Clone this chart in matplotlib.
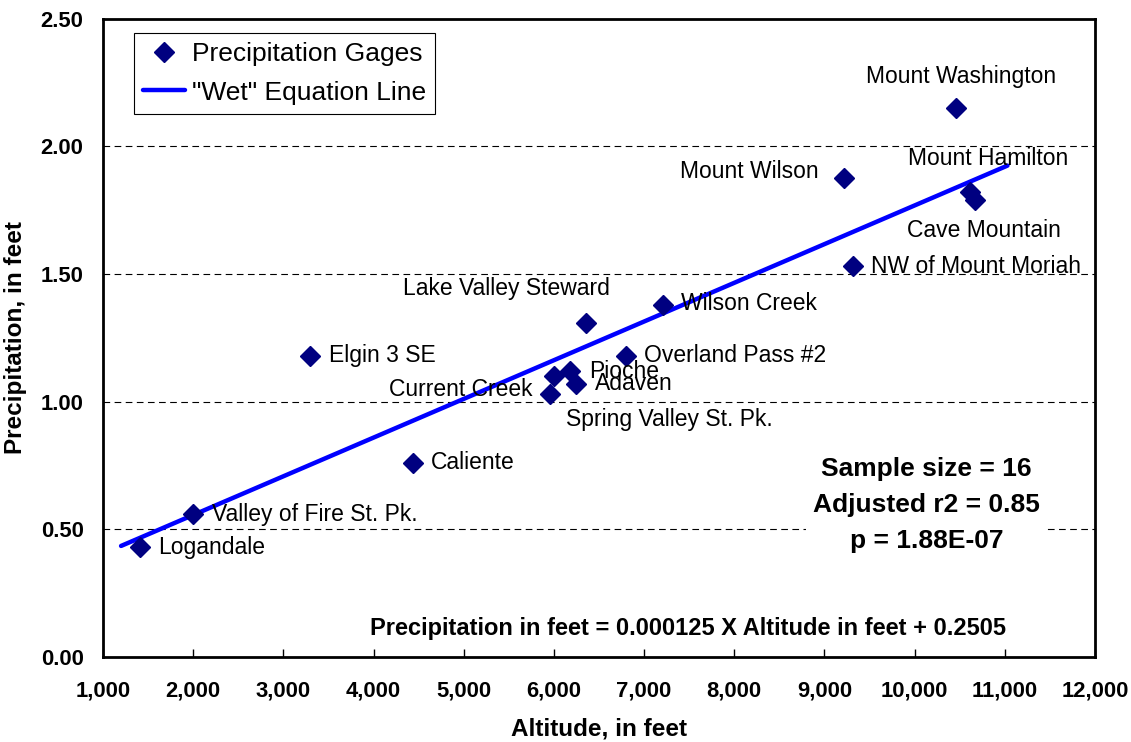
import matplotlib
matplotlib.use("Agg")
import matplotlib.pyplot as plt

plt.rcParams['font.family'] = ['Liberation Sans', 'DejaVu Sans']

# gage data
names = ["Logandale", "Valley of Fire St. Pk.", "Caliente", "Elgin 3 SE",
         "Current Creek", "Spring Valley St. Pk.", "Pioche", "Adaven",
         "Lake Valley Steward", "Overland Pass #2", "Wilson Creek",
         "Mount Wilson", "NW of Mount Moriah", "Mount Washington",
         "Mount Hamilton", "Cave Mountain"]
altitude = [1410, 2000, 4440, 3300, 5955, 6000, 6180, 6250, 6355, 6800,
            7205, 9215, 9320, 10455, 10615, 10665]
precip = [0.43, 0.56, 0.76, 1.18, 1.03, 1.10, 1.12, 1.07, 1.31, 1.18,
          1.38, 1.875, 1.53, 2.15, 1.82, 1.79]

line_x = [1200, 11030]
line_y = [0.435, 1.925]

xticks = list(range(1000, 12001, 1000))
yticks = [0.0, 0.5, 1.0, 1.5, 2.0, 2.5]

equation = "Precipitation in feet = 0.000125 X Altitude in feet + 0.2505"
stats = "Sample size = 16\nAdjusted r2 = 0.85\np = 1.88E-07"

# label placement: (dx px, dy px, ha)
label_pos = {
    "Logandale": (18, 0, "left"),
    "Valley of Fire St. Pk.": (19, 0, "left"),
    "Caliente": (18, 0, "left"),
    "Elgin 3 SE": (19, 0, "left"),
    "Current Creek": (-17, 5, "right"),
    "Spring Valley St. Pk.": (12, -43, "left"),
    "Pioche": (19, 0, "left"),
    "Adaven": (19, 0, "left"),
    "Lake Valley Steward": (24, 34, "right"),
    "Overland Pass #2": (18, 0, "left"),
    "Wilson Creek": (18, 1, "left"),
    "Mount Wilson": (-25, 7, "right"),
    "NW of Mount Moriah": (18, 0, "left"),
    "Mount Washington": (5, 32, "center"),
    "Mount Hamilton": (18, 34, "center"),
    "Cave Mountain": (9, -30, "center"),
}

fig = plt.figure(figsize=(11.31, 7.42), dpi=100)
ax = fig.add_axes([0.0911, 0.1146, 0.877, 0.86])

for y in yticks[1:-1]:
    ax.axhline(y, color="black", lw=0.8, ls=(0, (6, 4)), zorder=1)

ln, = ax.plot(line_x, line_y, color="#0000FF", lw=3.2, zorder=2,
              solid_capstyle="round", label='"Wet" Equation Line')
pts, = ax.plot(altitude, precip, "D", color="#000080", ms=10.5, ls="none",
               zorder=3, label="Precipitation Gages")

for n, x, y in zip(names, altitude, precip):
    dx, dy, ha = label_pos[n]
    ax.annotate(n, (x, y), xytext=(dx * 0.72, dy * 0.72),
                textcoords="offset points", ha=ha, va="center",
                fontsize=16.5, zorder=4)

ax.set_xlim(1000, 12000)
ax.set_ylim(0, 2.5)
ax.set_xticks(xticks)
ax.set_xticklabels([f"{v:,}" for v in xticks])
ax.set_yticks(yticks)
ax.set_yticklabels([f"{v:.2f}" for v in yticks])
for lab in ax.get_xticklabels() + ax.get_yticklabels():
    lab.set_fontweight("bold")
ax.tick_params(axis="x", direction="in", length=6, width=1, pad=17,
               labelsize=15.8)
ax.tick_params(axis="y", length=0, pad=14, labelsize=15.8)

for s in ax.spines.values():
    s.set_linewidth(2)

ax.set_xlabel("Altitude, in feet", fontsize=17.5, fontweight="bold")
ax.set_ylabel("Precipitation, in feet", fontsize=17.5, fontweight="bold")
ax.xaxis.set_label_coords(0.5, -0.095)
ax.yaxis.set_label_coords(-0.077, 0.5)

leg = ax.legend(handles=[pts, ln], loc="upper left",
                bbox_to_anchor=(0.031, 0.978), borderaxespad=0,
                fontsize=19, fancybox=False, edgecolor="black",
                framealpha=1, handlelength=1.6, handletextpad=0.25,
                borderpad=0.35, labelspacing=0.55)
leg.get_frame().set_linewidth(0.8)

ax.text(0.83, 0.238, stats, transform=ax.transAxes, ha="center",
        va="center", fontsize=19, fontweight="bold", linespacing=1.65,
        bbox=dict(boxstyle="square,pad=0.25", fc="white", ec="none"),
        zorder=5)
ax.text(0.59, 0.045, equation, transform=ax.transAxes, ha="center",
        va="center", fontsize=17, fontweight="bold", zorder=5)

fig.savefig("out.png", dpi=100)
